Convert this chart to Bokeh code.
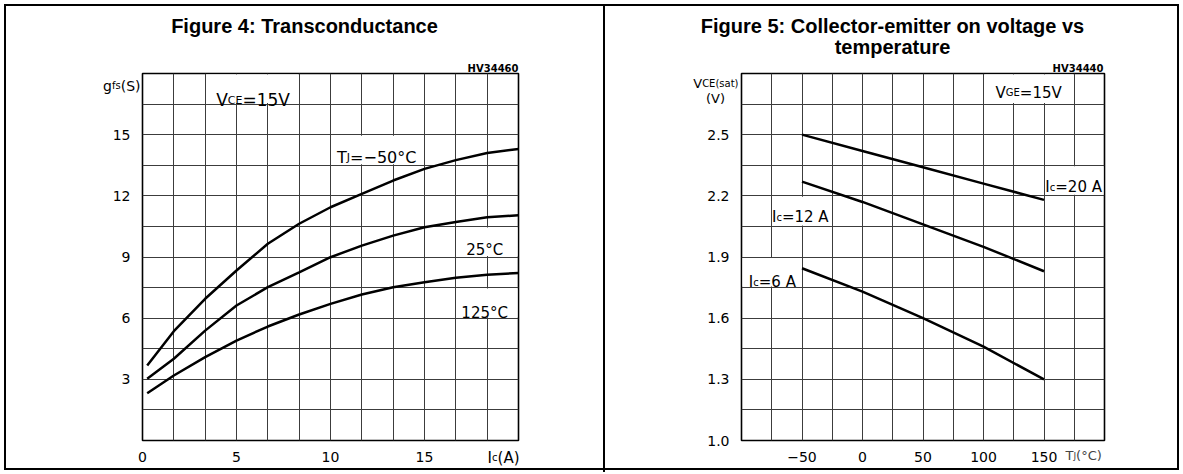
import numpy as np
from bokeh.plotting import figure
from bokeh.models import Range1d, FixedTicker, Label, BoxAnnotation
from bokeh.layouts import row
from bokeh.embed import file_html
from bokeh.resources import INLINE

# ---------------- Figure 4: Transconductance ----------------
ic_amps = [0.25, 1.667, 3.333, 5.0, 6.667, 8.333, 10.0, 11.667, 13.333, 15.0, 16.667, 18.333, 20.0]
gfs_tj_m50 = [3.68, 5.36, 6.95, 8.34, 9.65, 10.63, 11.44, 12.10, 12.75, 13.32, 13.75, 14.10, 14.30]
gfs_tj_25 = [3.03, 4.01, 5.39, 6.62, 7.52, 8.25, 8.99, 9.56, 10.05, 10.46, 10.72, 10.95, 11.05]
gfs_tj_125 = [2.32, 3.19, 4.09, 4.90, 5.59, 6.18, 6.70, 7.16, 7.52, 7.76, 7.98, 8.13, 8.22]
fig4_xticks = [0, 5, 10, 15]
fig4_xticklabels = ["0", "5", "10", "15"]
fig4_yticks = [3, 6, 9, 12, 15]
fig4_yticklabels = ["3", "6", "9", "12", "15"]

# ---------------- Figure 5: VCE(sat) vs temperature ----------------
tj_deg = [-50, 0, 50, 100, 150]
vce_ic20 = [2.50, 2.42, 2.34, 2.26, 2.18]
vce_ic12 = [2.27, 2.17, 2.06, 1.95, 1.83]
vce_ic6 = [1.845, 1.73, 1.60, 1.46, 1.30]
fig5_xticks = [-50, 0, 50, 100, 150]
fig5_xticklabels = ["\u221250", "0", "50", "100", "150"]
fig5_yticks = [1.0, 1.3, 1.6, 1.9, 2.2, 2.5]
fig5_yticklabels = ["1.0", "1.3", "1.6", "1.9", "2.2", "2.5"]

FONT = "DejaVu Sans"
TITLE_FONT = "Liberation Sans"
GRID = "#3c3c3c"

W = {'V': .684, 'C': .698, 'E': .632, 'G': .775, '=': .838, '0': .636, '1': .636, '2': .636,
     '3': .636, '4': .636, '5': .636, '6': .636, 'A': .684, 'I': .295, 'c': .550, 'T': .611,
     'J': .295, 's': .521, 'a': .613, 't': .392, '(': .390, ')': .390, '\u00b0': .500,
     'g': .635, 'f': .352, 'S': .635, '\u2212': .838, ' ': .318, 'H': .752}


def add_text(p, x, y, parts, align="left", color="black", units="data", side=None):
    """Multi-size text.  Canvas-unit texts live in a side panel so they are not clipped."""
    widths = [sum(W.get(ch, 0.6) for ch in t) * size for t, size in parts]
    total = sum(widths)
    off = {"left": 0.0, "center": -total / 2.0, "right": -total}[align]
    for (t, size), w in zip(parts, widths):
        lab = Label(x=x, y=y, x_units=units, y_units=units, x_offset=off, text=t,
                    text_font=FONT, text_font_size=f"{size}px", text_align="left",
                    text_baseline="alphabetic", text_color=color)
        if side is not None:
            p.add_layout(lab, side)
        else:
            p.add_layout(lab)
        off += w


def canvas_label(p, x, y, text, size, align, font=FONT, style="normal", side="above"):
    p.add_layout(Label(x=x, y=y, x_units="canvas", y_units="canvas", text=text,
                       text_font=font, text_font_style=style, text_font_size=f"{size}px",
                       text_align=align, text_baseline="alphabetic", text_color="black"),
                 side)


def white_box(p, l, r, b, t, px_x, px_y):
    p.add_layout(BoxAnnotation(left=l + px_x, right=r - px_x, bottom=b + px_y, top=t - px_y,
                               fill_color="white", fill_alpha=1.0, line_alpha=0.0,
                               level="underlay"))


def style_axes(p):
    for ax in (p.xaxis, p.yaxis):
        ax.axis_line_color = None
        ax.major_tick_line_color = None
        ax.minor_tick_line_color = None
        ax.major_label_text_font = FONT
        ax.major_label_text_font_size = "14px"
        ax.major_label_text_color = "black"
    p.xaxis.major_label_standoff = 5
    p.yaxis.major_label_standoff = 6
    p.outline_line_color = "black"
    p.outline_line_width = 1.6
    p.outline_line_alpha = 1.0
    p.xgrid.grid_line_color = GRID
    p.ygrid.grid_line_color = GRID
    p.xgrid.grid_line_width = 1
    p.ygrid.grid_line_width = 1
    p.background_fill_color = "white"
    p.border_fill_alpha = 0.0


H = 474

# ---------- left panel ----------
p1 = figure(width=604, height=H, x_range=Range1d(0, 20), y_range=Range1d(0, 18),
            output_backend="svg", toolbar_location=None,
            min_border_left=142, min_border_right=86, min_border_top=73, min_border_bottom=34)
style_axes(p1)
p1.xaxis.ticker = FixedTicker(ticks=fig4_xticks)
p1.yaxis.ticker = FixedTicker(ticks=fig4_yticks)
p1.xaxis.major_label_overrides = dict(zip(fig4_xticks, fig4_xticklabels))
p1.yaxis.major_label_overrides = dict(zip(fig4_yticks, fig4_yticklabels))
p1.xgrid.ticker = FixedTicker(ticks=[k * 5.0 / 3.0 for k in range(1, 12)])
p1.ygrid.ticker = FixedTicker(ticks=[k * 1.5 for k in range(1, 12)])

px1x, px1y = 20 / 376.0, 18 / 367.0
white_box(p1, 10 / 3, 25 / 3, 16.5, 18, px1x, px1y)
white_box(p1, 10, 15, 13.5, 15, px1x, px1y)
white_box(p1, 50 / 3, 20, 9, 10.5, px1x, px1y)
white_box(p1, 50 / 3, 20, 6, 7.5, px1x, px1y)

for ys in (gfs_tj_m50, gfs_tj_25, gfs_tj_125):
    p1.line(ic_amps, ys, line_color="black", line_width=2.5)

canvas_label(p1, 304, 25, "Figure 4: Transconductance", 20, "center", TITLE_FONT, "bold")
canvas_label(p1, 518, 68, "HV34460", 10, "right", FONT, "bold")
add_text(p1, 140, 85, [("g", 14), ("fs", 10), ("(S)", 14)], align="right", units="canvas",
         side="left")
add_text(p1, 519, 457, [("I", 15), ("c", 10), ("(A)", 15)], align="right", units="canvas",
         side="right")
add_text(p1, 5.88, 16.7, [("V", 17), ("CE", 11), ("=15V", 17)], align="center")
add_text(p1, 12.46, 13.88, [("T", 16), ("J", 11), ("=\u221250\u00b0C", 16)], align="center")
add_text(p1, 18.2, 9.32, [("25\u00b0C", 15)], align="center")
add_text(p1, 18.2, 6.23, [("125\u00b0C", 15)], align="center")

# ---------- right panel ----------
p2 = figure(width=579, height=H, x_range=Range1d(-100, 200), y_range=Range1d(1.0, 2.8),
            output_backend="svg", toolbar_location=None,
            min_border_left=137, min_border_right=79, min_border_top=73, min_border_bottom=33)
style_axes(p2)
p2.xaxis.ticker = FixedTicker(ticks=fig5_xticks)
p2.yaxis.ticker = FixedTicker(ticks=fig5_yticks)
p2.xaxis.major_label_overrides = dict(zip(fig5_xticks, fig5_xticklabels))
p2.yaxis.major_label_overrides = dict(zip(fig5_yticks, fig5_yticklabels))
p2.xgrid.ticker = FixedTicker(ticks=[-100 + 25 * k for k in range(1, 12)])
p2.ygrid.ticker = FixedTicker(ticks=[round(1.0 + 0.15 * k, 2) for k in range(1, 12)])

px2x, px2y = 300 / 363.0, 1.8 / 368.0
white_box(p2, 100, 175, 2.65, 2.8, px2x, px2y)
white_box(p2, 150, 200, 2.2, 2.35, px2x, px2y)
white_box(p2, -75, -25, 2.05, 2.2, px2x, px2y)
white_box(p2, -100, -50, 1.75, 1.9, px2x, px2y)

for ys in (vce_ic20, vce_ic12, vce_ic6):
    p2.line(tj_deg, ys, line_color="black", line_width=2.5)

canvas_label(p2, 288, 25, "Figure 5: Collector-emitter on voltage vs", 20, "center", TITLE_FONT, "bold")
canvas_label(p2, 288, 46, "temperature", 20, "center", TITLE_FONT, "bold")
canvas_label(p2, 499, 68, "HV34440", 10, "right", FONT, "bold")
add_text(p2, 134, 83, [("V", 13), ("CE(sat)", 10)], align="right", units="canvas", side="left")
add_text(p2, 111, 98, [("(V)", 13)], align="center", units="canvas", side="left")
add_text(p2, 461, 455, [("T", 13), ("J", 9), ("(\u00b0C)", 13)], align="left", color="#444444",
         units="canvas", side="right")
add_text(p2, 137.3, 2.706, [("V", 15), ("GE", 10), ("=15V", 15)], align="center")
add_text(p2, 174.5, 2.241, [("I", 15), ("c", 10), ("=20 A", 15)], align="center")
add_text(p2, -51.4, 2.095, [("I", 15), ("c", 10), ("=12 A", 15)], align="center")
add_text(p2, -74.5, 1.777, [("I", 15), ("c", 10), ("=6 A", 15)], align="center")

# outer frame (outline) and panel divider (background stripe, seen through the
# transparent figure borders)
layout = row(p1, p2, styles={
    "outline": "2px solid black",
    "outline-offset": "-6px",
    "background": "linear-gradient(#000, #000) 603px 4px / 2px 468px no-repeat",
})

open("out.html", "w").write(file_html(layout, INLINE))
